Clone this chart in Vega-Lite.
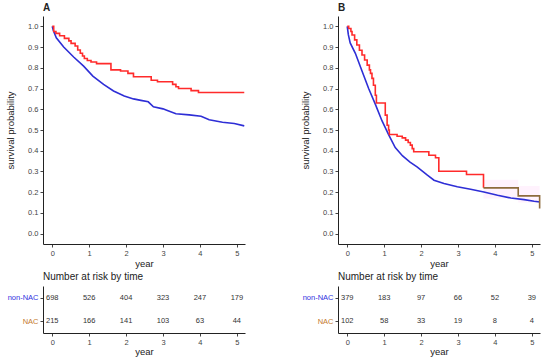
{
 "$schema": "https://vega.github.io/schema/vega-lite/v6.json",
 "padding": {"left": 5, "top": 3, "right": 3, "bottom": 1},
 "background": "white",
 "config": {
  "font": "Liberation Sans",
  "view": {"stroke": null},
  "axis": {"grid": false, "domainColor": "#222", "tickColor": "#444", "labelColor": "#444", "labelFontSize": 7.5, "titleFontSize": 9.5, "titleFontWeight": "normal", "titleColor": "#222", "tickSize": 3, "labelPadding": 2},
  "title": {"anchor": "start", "frame": "group", "fontSize": 10, "fontWeight": "bold", "color": "#222", "offset": 3}
 },
 "datasets": {
  "curves": [
   {"panel":"A","group":"non-NAC","year":0,"surv":1.0},
   {"panel":"A","group":"non-NAC","year":0.03,"surv":0.98},
   {"panel":"A","group":"non-NAC","year":0.11,"surv":0.945},
   {"panel":"A","group":"non-NAC","year":0.31,"surv":0.9},
   {"panel":"A","group":"non-NAC","year":0.58,"surv":0.852},
   {"panel":"A","group":"non-NAC","year":0.85,"surv":0.808},
   {"panel":"A","group":"non-NAC","year":1.1,"surv":0.76},
   {"panel":"A","group":"non-NAC","year":1.39,"surv":0.72},
   {"panel":"A","group":"non-NAC","year":1.66,"surv":0.688},
   {"panel":"A","group":"non-NAC","year":1.95,"surv":0.664},
   {"panel":"A","group":"non-NAC","year":2.2,"surv":0.65},
   {"panel":"A","group":"non-NAC","year":2.4,"surv":0.643},
   {"panel":"A","group":"non-NAC","year":2.6,"surv":0.636},
   {"panel":"A","group":"non-NAC","year":2.74,"surv":0.612},
   {"panel":"A","group":"non-NAC","year":3.0,"surv":0.602},
   {"panel":"A","group":"non-NAC","year":3.1,"surv":0.595},
   {"panel":"A","group":"non-NAC","year":3.35,"surv":0.578},
   {"panel":"A","group":"non-NAC","year":3.71,"surv":0.573},
   {"panel":"A","group":"non-NAC","year":4.03,"surv":0.566},
   {"panel":"A","group":"non-NAC","year":4.25,"surv":0.549},
   {"panel":"A","group":"non-NAC","year":4.61,"surv":0.537},
   {"panel":"A","group":"non-NAC","year":4.93,"surv":0.531},
   {"panel":"A","group":"non-NAC","year":5.2,"surv":0.52},
   {"panel":"B","group":"non-NAC","year":0,"surv":1.0},
   {"panel":"B","group":"non-NAC","year":0.03,"surv":0.96},
   {"panel":"B","group":"non-NAC","year":0.08,"surv":0.92},
   {"panel":"B","group":"non-NAC","year":0.22,"surv":0.87},
   {"panel":"B","group":"non-NAC","year":0.4,"surv":0.785},
   {"panel":"B","group":"non-NAC","year":0.58,"surv":0.7},
   {"panel":"B","group":"non-NAC","year":0.76,"surv":0.625},
   {"panel":"B","group":"non-NAC","year":0.94,"surv":0.545},
   {"panel":"B","group":"non-NAC","year":1.12,"surv":0.478},
   {"panel":"B","group":"non-NAC","year":1.3,"surv":0.415},
   {"panel":"B","group":"non-NAC","year":1.5,"surv":0.375},
   {"panel":"B","group":"non-NAC","year":1.7,"surv":0.345},
   {"panel":"B","group":"non-NAC","year":1.89,"surv":0.322},
   {"panel":"B","group":"non-NAC","year":2.17,"surv":0.282},
   {"panel":"B","group":"non-NAC","year":2.35,"surv":0.258},
   {"panel":"B","group":"non-NAC","year":2.62,"surv":0.242},
   {"panel":"B","group":"non-NAC","year":2.98,"surv":0.226},
   {"panel":"B","group":"non-NAC","year":3.34,"surv":0.214},
   {"panel":"B","group":"non-NAC","year":3.7,"surv":0.201},
   {"panel":"B","group":"non-NAC","year":4.07,"surv":0.185},
   {"panel":"B","group":"non-NAC","year":4.43,"surv":0.172},
   {"panel":"B","group":"non-NAC","year":4.79,"surv":0.164},
   {"panel":"B","group":"non-NAC","year":5.06,"surv":0.156},
   {"panel":"B","group":"non-NAC","year":5.22,"surv":0.153}
  ],
  "steps": [
   {"panel":"A","group":"NAC","year":0,"surv":1.0},
   {"panel":"A","group":"NAC","year":0.04,"surv":0.975},
   {"panel":"A","group":"NAC","year":0.1,"surv":0.966},
   {"panel":"A","group":"NAC","year":0.2,"surv":0.955},
   {"panel":"A","group":"NAC","year":0.33,"surv":0.942},
   {"panel":"A","group":"NAC","year":0.45,"surv":0.93},
   {"panel":"A","group":"NAC","year":0.51,"surv":0.918},
   {"panel":"A","group":"NAC","year":0.62,"surv":0.905},
   {"panel":"A","group":"NAC","year":0.69,"surv":0.886},
   {"panel":"A","group":"NAC","year":0.76,"surv":0.87},
   {"panel":"A","group":"NAC","year":0.82,"surv":0.857},
   {"panel":"A","group":"NAC","year":0.87,"surv":0.845},
   {"panel":"A","group":"NAC","year":0.95,"surv":0.835},
   {"panel":"A","group":"NAC","year":1.05,"surv":0.828},
   {"panel":"A","group":"NAC","year":1.2,"surv":0.82},
   {"panel":"A","group":"NAC","year":1.59,"surv":0.79},
   {"panel":"A","group":"NAC","year":1.85,"surv":0.785},
   {"panel":"A","group":"NAC","year":2.05,"surv":0.773},
   {"panel":"A","group":"NAC","year":2.2,"surv":0.757},
   {"panel":"A","group":"NAC","year":2.68,"surv":0.74},
   {"panel":"A","group":"NAC","year":2.85,"surv":0.733},
   {"panel":"A","group":"NAC","year":3.26,"surv":0.72},
   {"panel":"A","group":"NAC","year":3.35,"surv":0.709},
   {"panel":"A","group":"NAC","year":3.42,"surv":0.7},
   {"panel":"A","group":"NAC","year":3.76,"surv":0.69},
   {"panel":"A","group":"NAC","year":3.96,"surv":0.681},
   {"panel":"A","group":"NAC","year":5.2,"surv":0.681},
   {"panel":"B","group":"NAC","year":0,"surv":1.0},
   {"panel":"B","group":"NAC","year":0.04,"surv":0.99},
   {"panel":"B","group":"NAC","year":0.1,"surv":0.975},
   {"panel":"B","group":"NAC","year":0.13,"surv":0.958},
   {"panel":"B","group":"NAC","year":0.2,"surv":0.935},
   {"panel":"B","group":"NAC","year":0.26,"surv":0.91},
   {"panel":"B","group":"NAC","year":0.33,"surv":0.885},
   {"panel":"B","group":"NAC","year":0.4,"surv":0.862},
   {"panel":"B","group":"NAC","year":0.47,"surv":0.838},
   {"panel":"B","group":"NAC","year":0.54,"surv":0.813},
   {"panel":"B","group":"NAC","year":0.6,"surv":0.79},
   {"panel":"B","group":"NAC","year":0.63,"surv":0.773},
   {"panel":"B","group":"NAC","year":0.67,"surv":0.749},
   {"panel":"B","group":"NAC","year":0.71,"surv":0.716},
   {"panel":"B","group":"NAC","year":0.76,"surv":0.668},
   {"panel":"B","group":"NAC","year":0.79,"surv":0.63},
   {"panel":"B","group":"NAC","year":1.03,"surv":0.572},
   {"panel":"B","group":"NAC","year":1.08,"surv":0.523},
   {"panel":"B","group":"NAC","year":1.12,"surv":0.5},
   {"panel":"B","group":"NAC","year":1.14,"surv":0.478},
   {"panel":"B","group":"NAC","year":1.35,"surv":0.47},
   {"panel":"B","group":"NAC","year":1.49,"surv":0.462},
   {"panel":"B","group":"NAC","year":1.58,"surv":0.451},
   {"panel":"B","group":"NAC","year":1.65,"surv":0.44},
   {"panel":"B","group":"NAC","year":1.71,"surv":0.427},
   {"panel":"B","group":"NAC","year":1.76,"surv":0.41},
   {"panel":"B","group":"NAC","year":1.8,"surv":0.395},
   {"panel":"B","group":"NAC","year":2.21,"surv":0.378},
   {"panel":"B","group":"NAC","year":2.39,"surv":0.366},
   {"panel":"B","group":"NAC","year":2.48,"surv":0.301},
   {"panel":"B","group":"NAC","year":3.23,"surv":0.285},
   {"panel":"B","group":"NAC","year":3.69,"surv":0.221},
   {"panel":"B","group":"NAC late","year":3.69,"surv":0.221},
   {"panel":"B","group":"NAC late","year":4.63,"surv":0.182},
   {"panel":"B","group":"NAC late","year":5.21,"surv":0.121}
  ],
  "band": [
   {"year":3.69,"lo":0.17,"hi":0.26},
   {"year":4.63,"lo":0.15,"hi":0.23},
   {"year":5.21,"lo":0.14,"hi":0.21}
  ],
  "risk": [
   {"panel":"A","group":"non-NAC","year":0,"n":698},
   {"panel":"A","group":"non-NAC","year":1,"n":526},
   {"panel":"A","group":"non-NAC","year":2,"n":404},
   {"panel":"A","group":"non-NAC","year":3,"n":323},
   {"panel":"A","group":"non-NAC","year":4,"n":247},
   {"panel":"A","group":"non-NAC","year":5,"n":179},
   {"panel":"A","group":"NAC","year":0,"n":215},
   {"panel":"A","group":"NAC","year":1,"n":166},
   {"panel":"A","group":"NAC","year":2,"n":141},
   {"panel":"A","group":"NAC","year":3,"n":103},
   {"panel":"A","group":"NAC","year":4,"n":63},
   {"panel":"A","group":"NAC","year":5,"n":44},
   {"panel":"B","group":"non-NAC","year":0,"n":379},
   {"panel":"B","group":"non-NAC","year":1,"n":183},
   {"panel":"B","group":"non-NAC","year":2,"n":97},
   {"panel":"B","group":"non-NAC","year":3,"n":66},
   {"panel":"B","group":"non-NAC","year":4,"n":52},
   {"panel":"B","group":"non-NAC","year":5,"n":39},
   {"panel":"B","group":"NAC","year":0,"n":102},
   {"panel":"B","group":"NAC","year":1,"n":58},
   {"panel":"B","group":"NAC","year":2,"n":33},
   {"panel":"B","group":"NAC","year":3,"n":19},
   {"panel":"B","group":"NAC","year":4,"n":8},
   {"panel":"B","group":"NAC","year":5,"n":4}
  ]
 },
 "spacing": 52,
 "hconcat": [
  {
   "spacing": 4,
   "vconcat": [
    {
     "width": 202, "height": 228,
     "title": {"text": "A"},
     "encoding": {
      "x": {"field": "year", "type": "quantitative", "scale": {"domain": [-0.25, 5.22], "nice": false, "zero": false}, "axis": {"values": [0,1,2,3,4,5], "format": "d", "title": "year", "titlePadding": 2, "labelColor": "#444"}},
      "y": {"field": "surv", "type": "quantitative", "scale": {"domain": [-0.05, 1.05], "nice": false}, "axis": {"values": [0,0.1,0.2,0.3,0.4,0.5,0.6,0.7,0.8,0.9,1.0], "format": ".1f", "title": "survival probability", "titlePadding": 12}},
      "color": {"field": "group", "type": "nominal", "scale": {"domain": ["non-NAC","NAC","NAC late"], "range": ["#2e2ed6","#ff2b2b","#8d6b3c"]}, "legend": null}
     },
     "layer": [
      {"data": {"name": "curves"}, "transform": [{"filter": "datum.panel === 'A'"}], "mark": {"type": "line", "strokeWidth": 1.6}},
      {"data": {"name": "steps"}, "transform": [{"filter": "datum.panel === 'A'"}], "mark": {"type": "line", "interpolate": "step-after", "strokeWidth": 1.6}}
     ]
    },
    {
     "width": 202, "height": 47,
     "title": {"text": "Number at risk by time", "fontWeight": "normal", "fontSize": 10, "offset": 4},
     "data": {"name": "risk"},
     "transform": [{"filter": "datum.panel === 'A'"}],
     "mark": {"type": "text", "fontSize": 7.5, "color": "#333"},
     "encoding": {
      "x": {"field": "year", "type": "quantitative", "scale": {"domain": [-0.25, 5.22], "nice": false, "zero": false}, "axis": {"values": [0,1,2,3,4,5], "format": "d", "title": "year", "titlePadding": 1, "labelColor": "#444"}},
      "y": {"field": "group", "type": "nominal", "scale": {"type": "point", "domain": ["non-NAC","NAC"], "padding": 0.5}, "axis": {"title": null, "labelFontSize": 7.5, "labelColor": {"condition": {"test": "datum.value === 'NAC'", "value": "#c57a2e"}, "value": "#3030e0"}}},
      "text": {"field": "n", "type": "quantitative"}
     }
    }
   ]
  },
  {
   "spacing": 4,
   "vconcat": [
    {
     "width": 202, "height": 228,
     "title": {"text": "B"},
     "encoding": {
      "x": {"field": "year", "type": "quantitative", "scale": {"domain": [-0.25, 5.22], "nice": false, "zero": false}, "axis": {"values": [0,1,2,3,4,5], "format": "d", "title": "year", "titlePadding": 2, "labelColor": "#444"}},
      "y": {"field": "surv", "type": "quantitative", "scale": {"domain": [-0.05, 1.05], "nice": false}, "axis": {"values": [0,0.1,0.2,0.3,0.4,0.5,0.6,0.7,0.8,0.9,1.0], "format": ".1f", "title": "survival probability", "titlePadding": 12}},
      "color": {"field": "group", "type": "nominal", "scale": {"domain": ["non-NAC","NAC","NAC late"], "range": ["#2e2ed6","#ff2b2b","#8d6b3c"]}, "legend": null}
     },
     "layer": [
      {"data": {"name": "band"}, "mark": {"type": "area", "interpolate": "step-after", "opacity": 0.1}, "encoding": {"x": {"field": "year", "type": "quantitative"}, "y": {"field": "lo", "type": "quantitative"}, "y2": {"field": "hi"}, "color": {"value": "#ff80f0"}}},
      {"data": {"name": "curves"}, "transform": [{"filter": "datum.panel === 'B'"}], "mark": {"type": "line", "strokeWidth": 1.6}},
      {"data": {"name": "steps"}, "transform": [{"filter": "datum.panel === 'B'"}], "mark": {"type": "line", "interpolate": "step-after", "strokeWidth": 1.6}}
     ]
    },
    {
     "width": 202, "height": 47,
     "title": {"text": "Number at risk by time", "fontWeight": "normal", "fontSize": 10, "offset": 4},
     "data": {"name": "risk"},
     "transform": [{"filter": "datum.panel === 'B'"}],
     "mark": {"type": "text", "fontSize": 7.5, "color": "#333"},
     "encoding": {
      "x": {"field": "year", "type": "quantitative", "scale": {"domain": [-0.25, 5.22], "nice": false, "zero": false}, "axis": {"values": [0,1,2,3,4,5], "format": "d", "title": "year", "titlePadding": 1, "labelColor": "#444"}},
      "y": {"field": "group", "type": "nominal", "scale": {"type": "point", "domain": ["non-NAC","NAC"], "padding": 0.5}, "axis": {"title": null, "labelFontSize": 7.5, "labelColor": {"condition": {"test": "datum.value === 'NAC'", "value": "#c57a2e"}, "value": "#3030e0"}}},
      "text": {"field": "n", "type": "quantitative"}
     }
    }
   ]
  }
 ]
}
